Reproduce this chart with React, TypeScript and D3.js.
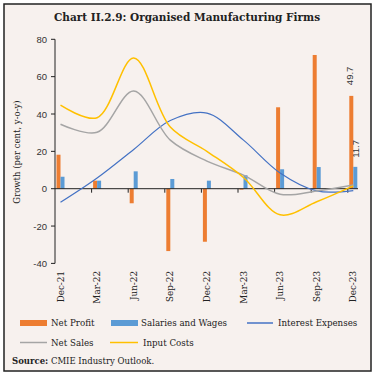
import React from "react";
import * as d3 from "d3";

const categories = ["Dec-21", "Mar-22", "Jun-22", "Sep-22", "Dec-22", "Mar-23", "Jun-23", "Sep-23", "Dec-23"];
const netProfit = [18.2, 4.3, -7.8, -33.4, -28.4, -0.5, 43.6, 71.6, 49.7];
const salaries = [6.4, 4.3, 9.3, 5.2, 4.3, 7.2, 10.4, 11.6, 11.7];
const interestExp = [-7.3, 5.7, 21.0, 36.5, 40.5, 26.0, 8.4, -1.2, -1.0];
const netSales = [34.5, 30.2, 52.3, 26.0, 14.8, 7.3, -3.0, -1.2, 2.0];
const inputCosts = [44.7, 38.0, 70.0, 33.0, 20.0, 6.0, -14.0, -7.0, 1.5];
const yTicks = [-40, -20, 0, 20, 40, 60, 80];

const W = 375, H = 377;
const BG = "#F7F1EE";

export default function App() {
  const y = d3.scaleLinear().domain([-40, 80]).range([263.4, 39.3]);
  const x = d3.scaleLinear().domain([0, 8]).range([60.5, 353.3]);
  const step = x(1) - x(0);
  const axisX = 55;
  const axisEnd = 358;
  const bw = 4;
  const line = (vals: number[]) =>
    d3.line<number>().x((_, i) => x(i)).y((v) => y(v)).curve(d3.curveCatmullRom.alpha(0.5))(vals) || "";
  const serif = "'DejaVu Serif', serif";
  const sans = "'Liberation Sans', Arial, sans-serif";
  return (
    <svg width={W} height={H} style={{ position: "absolute", left: 0, top: 0 }}>
      <rect x={0} y={0} width={W} height={H} fill="#fff" />
      <rect x={4} y={4} width={367} height={367} fill={BG} stroke="#222" strokeWidth={1.5} />
      <text x={187} y={21} textAnchor="middle" fontFamily={serif} fontWeight="bold" fontSize={10.5} fill="#222">
        Chart II.2.9: Organised Manufacturing Firms
      </text>
      {/* bars */}
      {netProfit.map((v, i) => (
        <rect key={"np" + i} x={x(i) - bw} y={Math.min(y(v), y(0))} width={bw} height={Math.abs(y(v) - y(0))} fill="#ED7D31" />
      ))}
      {salaries.map((v, i) => (
        <rect key={"sw" + i} x={x(i)} y={Math.min(y(v), y(0))} width={bw} height={Math.abs(y(v) - y(0))} fill="#5B9BD5" />
      ))}
      {/* axes */}
      <line x1={axisX} x2={axisX} y1={y(80)} y2={y(-40)} stroke="#222" strokeWidth={1} />
      {yTicks.map((t) => (
        <g key={t}>
          <line x1={axisX - 4} x2={axisX} y1={y(t)} y2={y(t)} stroke="#222" />
          <text x={axisX - 8} y={y(t) + 3.5} textAnchor="end" fontFamily={sans} fontSize={9.5} fill="#333">
            {t}
          </text>
        </g>
      ))}
      <line x1={axisX} x2={axisEnd} y1={y(0)} y2={y(0)} stroke="#222" strokeWidth={1} />
      {categories.map((c, i) =>
        i > 0 ? <line key={"t" + i} x1={axisX + step * i} x2={axisX + step * i} y1={y(0)} y2={y(0) + 4} stroke="#222" /> : null
      )}
      {/* lines */}
      <path d={line(interestExp)} fill="none" stroke="#4472C4" strokeWidth={1.2} />
      <path d={line(netSales)} fill="none" stroke="#A5A5A5" strokeWidth={1.5} />
      <path d={line(inputCosts)} fill="none" stroke="#FFC000" strokeWidth={1.5} />
      {/* data labels */}
      <text transform={`translate(${x(8) - 0.5},${y(49.7) - 20}) rotate(-90)`} textAnchor="middle" fontFamily={sans} fontSize={9.5} fill="#333">
        49.7
      </text>
      <text transform={`translate(${x(8) + 6},${y(11.7) - 18}) rotate(-90)`} textAnchor="middle" fontFamily={sans} fontSize={9.5} fill="#333">
        11.7
      </text>
      {/* x labels */}
      {categories.map((c, i) => (
        <text key={"xl" + i} transform={`translate(${x(i) + 3},271) rotate(-90)`} textAnchor="end" fontFamily={serif} fontSize={8.8} fill="#222">
          {c}
        </text>
      ))}
      {/* y title */}
      <text transform="translate(20,152) rotate(-90)" textAnchor="middle" fontFamily={serif} fontSize={8.5} fill="#222">
        Growth (per cent, y-o-y)
      </text>
      {/* legend */}
      <rect x={20} y={320} width={27} height={6} fill="#ED7D31" />
      <text x={51} y={326} fontFamily={serif} fontSize={8.7} fill="#222">Net Profit</text>
      <rect x={111} y={320} width={27} height={6} fill="#5B9BD5" />
      <text x={141} y={326} fontFamily={serif} fontSize={8.7} fill="#222">Salaries and Wages</text>
      <line x1={247} x2={273} y1={323} y2={323} stroke="#4472C4" strokeWidth={1.5} />
      <text x={278} y={326} fontFamily={serif} fontSize={8.7} fill="#222">Interest Expenses</text>
      <line x1={20} x2={47} y1={342.5} y2={342.5} stroke="#A5A5A5" strokeWidth={1.5} />
      <text x={51} y={345.5} fontFamily={serif} fontSize={8.7} fill="#222">Net Sales</text>
      <line x1={110} x2={138} y1={342.5} y2={342.5} stroke="#FFC000" strokeWidth={1.5} />
      <text x={143} y={345.5} fontFamily={serif} fontSize={8.7} fill="#222">Input Costs</text>
      <text x={12} y={364} fontFamily={serif} fontSize={8.5} fill="#222">
        <tspan fontWeight="bold">Source:</tspan> CMIE Industry Outlook.
      </text>
    </svg>
  );
}
